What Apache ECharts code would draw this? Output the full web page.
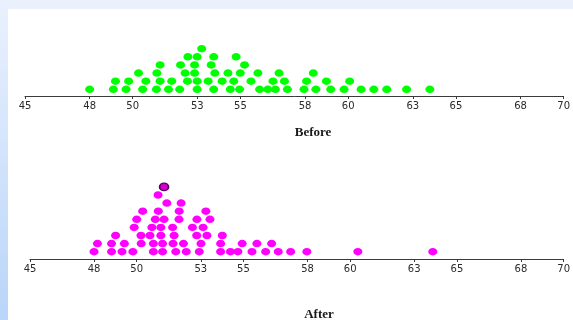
<!DOCTYPE html>
<html>
<head>
<meta charset="utf-8">
<script src="https://cdn.jsdelivr.net/npm/echarts@6/dist/echarts.min.js"></script>
<style>
  html, body { margin: 0; padding: 0; background: #ffffff; }
  #chart { width: 573px; height: 320px; }
</style>
</head>
<body>
<div id="chart"></div>
<script>
// Axis ticks (rounded labels at whole numbers)
const tickValues = [45, 48, 50, 53, 55, 58, 60, 63, 65, 68, 70];

// "Before" observations, grouped by stack level (1 = bottom row)
const beforeRow1 = [48.00, 49.10, 49.69, 50.46, 51.10, 51.66, 52.18, 52.99, 53.76, 54.53, 54.96, 55.89,
                    56.27, 56.62, 57.18, 57.95, 58.50, 59.19, 59.81, 60.60, 61.19, 61.79, 62.71, 63.79];
const beforeRow2 = [49.20, 49.81, 50.61, 51.27, 51.81, 52.54, 52.99, 53.50, 54.15, 54.69, 55.49, 56.51,
                    57.04, 58.07, 58.99, 60.07];
const beforeRow3 = [50.27, 51.12, 52.43, 52.87, 53.81, 54.42, 54.99, 55.81, 56.79, 58.38];
const beforeRow4 = [51.27, 52.22, 52.87, 53.64, 55.19];
const beforeRow5 = [52.56, 52.99, 53.76, 54.80];
const beforeRow6 = [53.20];

// "After" observations, grouped by stack level
const afterRow1 = [48.00, 48.82, 49.31, 49.82, 50.78, 51.21, 51.83, 52.32, 52.93, 53.93, 54.39, 54.74,
                   55.40, 56.04, 56.63, 57.21, 57.97, 60.36, 63.87];
const afterRow2 = [48.16, 48.82, 49.42, 50.21, 50.78, 51.21, 51.70, 52.19, 53.01, 53.93, 54.94, 55.63, 56.32];
const afterRow3 = [49.01, 50.20, 50.62, 51.13, 51.75, 52.81, 53.29, 54.01];
const afterRow4 = [49.88, 50.71, 51.13, 51.68, 52.61, 53.11];
const afterRow5 = [50.00, 50.87, 51.28, 51.98, 52.82, 53.43];
const afterRow6 = [50.28, 51.01, 51.99, 53.24];
const afterRow7 = [51.41, 52.08];
const afterRow8 = [51.00];
const afterRow9 = [51.28];   // selected point, drawn with an outline

const beforeRows = [beforeRow1, beforeRow2, beforeRow3, beforeRow4, beforeRow5, beforeRow6];
const afterRows = [afterRow1, afterRow2, afterRow3, afterRow4, afterRow5, afterRow6, afterRow7, afterRow8];

function stackPoints(rows) {
  const pts = [];
  rows.forEach((row, i) => row.forEach(v => pts.push([v, i + 1])));
  return pts;
}

const afterSelected = afterRow9.map(v => ({
  value: [v, 9],
  itemStyle: { color: '#d000d0', borderColor: '#5a005a', borderWidth: 1.5 }
}));

function makeXAxis(gridIndex) {
  return {
    gridIndex: gridIndex,
    type: 'value',
    min: 45,
    max: 70,
    axisLine: { show: true, onZero: false, lineStyle: { color: '#3a3a3a', width: 1 } },
    axisTick: { show: true, customValues: tickValues, length: 3, lineStyle: { color: '#3a3a3a' } },
    axisLabel: {
      customValues: tickValues,
      fontSize: 10,
      fontFamily: 'DejaVu Sans',
      color: '#2a2a2a',
      margin: 5
    },
    splitLine: { show: false }
  };
}

function makeYAxis(gridIndex, min, max) {
  return {
    gridIndex: gridIndex,
    type: 'value',
    min: min,
    max: max,
    show: false,
    splitLine: { show: false }
  };
}

const chart = echarts.init(document.getElementById('chart'), null, { renderer: 'canvas' });

chart.setOption({
  backgroundColor: '#ffffff',
  animation: false,
  graphic: [
    { type: 'rect', left: 0, top: 0, shape: { width: 573, height: 9 }, style: { fill: '#eaf1fd' }, z: -10 },
    {
      type: 'rect', left: 0, top: 0, shape: { width: 8, height: 320 }, z: -10,
      style: {
        fill: new echarts.graphic.LinearGradient(0, 0, 0, 1, [
          { offset: 0, color: '#eaf1fd' },
          { offset: 1, color: '#b9d5f9' }
        ])
      }
    }
  ],
  title: [
    {
      text: 'Before', left: 308, top: 121, textAlign: 'center',
      textStyle: { fontFamily: 'Liberation Serif', fontWeight: 'bold', fontSize: 13, color: '#1a1a1a' }
    },
    {
      text: 'After', left: 314, top: 303, textAlign: 'center',
      textStyle: { fontFamily: 'Liberation Serif', fontWeight: 'bold', fontSize: 13, color: '#1a1a1a' }
    }
  ],
  grid: [
    { left: 25, width: 542, top: 31, height: 65 },
    { left: 30, width: 541, top: 178, height: 81 }
  ],
  xAxis: [makeXAxis(0), makeXAxis(1)],
  yAxis: [makeYAxis(0, 0.18, 8.18), makeYAxis(1, 0.1, 10.1)],
  series: [
    {
      type: 'scatter', xAxisIndex: 0, yAxisIndex: 0,
      symbol: 'circle', symbolSize: [9, 7.5],
      itemStyle: { color: '#00ff00', opacity: 1 },
      data: stackPoints(beforeRows)
    },
    {
      type: 'scatter', xAxisIndex: 1, yAxisIndex: 1,
      symbol: 'circle', symbolSize: [9, 7.5],
      itemStyle: { color: '#ff00ff', opacity: 1 },
      data: stackPoints(afterRows).concat(afterSelected)
    }
  ]
});
</script>
</body>
</html>
